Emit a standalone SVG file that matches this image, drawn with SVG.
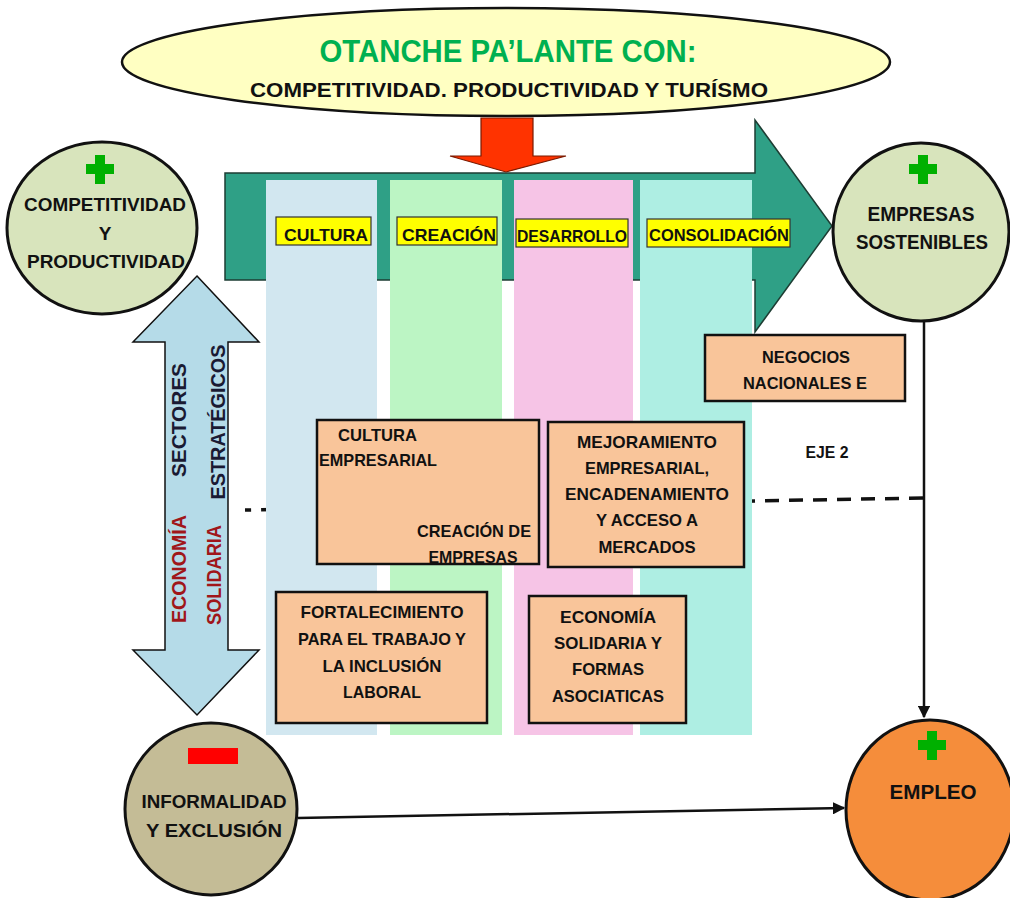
<svg xmlns="http://www.w3.org/2000/svg" width="1010" height="898" viewBox="0 0 1010 898">
<defs>
<style>
text{font-family:"Liberation Sans",Arial,sans-serif;font-weight:bold;fill:#111}
.c{text-anchor:middle}
.box{fill:#F9C59A;stroke:#111;stroke-width:2.5}
.lbl{fill:#FFFF00;stroke:#333;stroke-width:1.2}
.lt{font-size:17px}
.bt{font-size:17px}
.ct{font-size:19px}
.plus{fill:#00B000}
.circ{stroke:#111;stroke-width:3}
.conn{stroke:#111;stroke-width:2.5;fill:none}
.dash{stroke:#111;stroke-width:3.5;fill:none;stroke-dasharray:14 10}
</style>
<marker id="ah" viewBox="0 0 10 10" refX="9" refY="5" markerWidth="5" markerHeight="5" orient="auto" markerUnits="strokeWidth">
<path d="M0,0 L10,5 L0,10 z" fill="#111"/>
</marker>
</defs>
<rect width="1010" height="898" fill="#fff"/>

<g id="connectors">
<path class="dash" d="M923,498 L245,510"/>
<path class="conn" d="M924,322 L924,717" marker-end="url(#ah)"/>
<path class="conn" d="M298,818 L844,808" marker-end="url(#ah)"/>
</g>

<g id="main-arrow">
<polygon points="225,173 755,173 755,120 832,226 755,332 755,280 225,280" fill="#2FA086" stroke="#1d3d33" stroke-width="1.5"/>
</g>

<g id="columns">
<rect x="266" y="180" width="111" height="555" fill="#D2E7F0"/>
<rect x="390" y="180" width="112" height="555" fill="#BCF5C4"/>
<rect x="514" y="180" width="119" height="555" fill="#F6C4E6"/>
<rect x="640" y="180" width="112" height="555" fill="#AEEEE3"/>
</g>

<g id="title">
<ellipse cx="506" cy="62" rx="384" ry="54" fill="#FFFFC2" stroke="#111" stroke-width="2.5"/>
<text x="508" y="62" class="c" style="font-size:31px;fill:#00B050" textLength="377" lengthAdjust="spacingAndGlyphs">OTANCHE PA’LANTE CON:</text>
<text x="509" y="97" class="c" style="font-size:21px" textLength="518" lengthAdjust="spacingAndGlyphs">COMPETITIVIDAD. PRODUCTIVIDAD Y TURÍSMO</text>
</g>

<g id="down-arrow">
<polygon points="481,118 533,118 533,156 566,156 506,172 450,156 481,156" fill="#FF3300" stroke="#7a1a00" stroke-width="1.2"/>
</g>

<g id="label-cultura">
<rect class="lbl" x="276" y="217" width="95" height="28"/>
<text x="326" y="241" class="c lt" textLength="84" lengthAdjust="spacingAndGlyphs">CULTURA</text>
</g>
<g id="label-creacion">
<rect class="lbl" x="397" y="217" width="100" height="28"/>
<text x="449" y="241" class="c lt" textLength="94" lengthAdjust="spacingAndGlyphs">CREACIÓN</text>
</g>
<g id="label-desarrollo">
<rect class="lbl" x="516" y="219" width="112" height="28"/>
<text x="572" y="242" class="c lt" textLength="110" lengthAdjust="spacingAndGlyphs">DESARROLLO</text>
</g>
<g id="label-consolidacion">
<rect class="lbl" x="647" y="219" width="143" height="28"/>
<text x="719" y="241" class="c lt" textLength="140" lengthAdjust="spacingAndGlyphs">CONSOLIDACIÓN</text>
</g>

<g id="double-arrow">
<polygon points="197,276 259,342 228,342 228,650 259,650 197,715 133,650 165,650 165,342 133,342" fill="#B5DBE8" stroke="#111" stroke-width="1.5"/>
<text transform="translate(186,420) rotate(-90)" class="c" style="font-size:21px;fill:#1a1a33" textLength="114" lengthAdjust="spacingAndGlyphs">SECTORES</text>
<text transform="translate(225,422) rotate(-90)" class="c" style="font-size:21px;fill:#1a1a33" textLength="155" lengthAdjust="spacingAndGlyphs">ESTRATÉGICOS</text>
<text transform="translate(186,569) rotate(-90)" class="c" style="font-size:21px;fill:#A0161A" textLength="108" lengthAdjust="spacingAndGlyphs">ECONOMÍA</text>
<text transform="translate(221,575) rotate(-90)" class="c" style="font-size:21px;fill:#A0161A" textLength="100" lengthAdjust="spacingAndGlyphs">SOLIDARIA</text>
</g>

<g id="node-competitividad">
<ellipse class="circ" cx="102" cy="228" rx="95" ry="86" fill="#D8E4BC"/>
<path class="plus" d="M95,155 h10 v9 h9 v10 h-9 v10 h-10 v-10 h-9 v-10 h9 z"/>
<text x="105" y="211" class="c ct" textLength="162" lengthAdjust="spacingAndGlyphs">COMPETITIVIDAD</text>
<text x="105" y="240" class="c ct">Y</text>
<text x="106" y="268" class="c ct" textLength="158" lengthAdjust="spacingAndGlyphs">PRODUCTIVIDAD</text>
</g>

<g id="node-empresas">
<ellipse class="circ" cx="921" cy="232" rx="88" ry="89" fill="#D8E4BC"/>
<path class="plus" d="M918,155 h10 v9 h9 v10 h-9 v10 h-10 v-10 h-9 v-10 h9 z"/>
<text x="921" y="221" class="c" style="font-size:20px" textLength="107" lengthAdjust="spacingAndGlyphs">EMPRESAS</text>
<text x="922" y="249" class="c" style="font-size:20px" textLength="132" lengthAdjust="spacingAndGlyphs">SOSTENIBLES</text>
</g>

<g id="node-informalidad">
<ellipse class="circ" cx="211" cy="809" rx="86" ry="86" fill="#C4BC96"/>
<rect x="188" y="748" width="50" height="16" fill="#FF0000"/>
<text x="214" y="808" class="c ct" textLength="145" lengthAdjust="spacingAndGlyphs">INFORMALIDAD</text>
<text x="214" y="837" class="c ct" textLength="136" lengthAdjust="spacingAndGlyphs">Y EXCLUSIÓN</text>
</g>

<g id="node-empleo">
<ellipse class="circ" cx="930" cy="810" rx="84" ry="90" fill="#F58D3B"/>
<path class="plus" d="M927,731 h10 v9 h9 v10 h-9 v10 h-10 v-10 h-9 v-10 h9 z"/>
<text x="933" y="799" class="c" style="font-size:21px" textLength="87" lengthAdjust="spacingAndGlyphs">EMPLEO</text>
</g>

<g id="box-cultura-empresarial">
<rect class="box" x="317" y="420" width="222" height="144"/>
<text x="338" y="441" class="bt" textLength="79" lengthAdjust="spacingAndGlyphs">CULTURA</text>
<text x="319" y="466" class="bt" textLength="118" lengthAdjust="spacingAndGlyphs">EMPRESARIAL</text>
<text x="417" y="537" class="bt" textLength="114" lengthAdjust="spacingAndGlyphs">CREACIÓN DE</text>
<text x="473" y="563" class="c bt" textLength="89" lengthAdjust="spacingAndGlyphs">EMPRESAS</text>
</g>

<g id="box-mejoramiento">
<rect class="box" x="548" y="422" width="196" height="145"/>
<text x="647" y="448" class="c bt" textLength="140" lengthAdjust="spacingAndGlyphs">MEJORAMIENTO</text>
<text x="647" y="474" class="c bt" textLength="124" lengthAdjust="spacingAndGlyphs">EMPRESARIAL,</text>
<text x="647" y="500" class="c bt" textLength="164" lengthAdjust="spacingAndGlyphs">ENCADENAMIENTO</text>
<text x="647" y="526" class="c bt" textLength="102" lengthAdjust="spacingAndGlyphs">Y ACCESO A</text>
<text x="647" y="553" class="c bt" textLength="97" lengthAdjust="spacingAndGlyphs">MERCADOS</text>
</g>

<g id="box-fortalecimiento">
<rect class="box" x="276" y="592" width="211" height="131"/>
<text x="382" y="618" class="c bt" textLength="163" lengthAdjust="spacingAndGlyphs">FORTALECIMIENTO</text>
<text x="382" y="645" class="c bt" textLength="168" lengthAdjust="spacingAndGlyphs">PARA EL TRABAJO Y</text>
<text x="382" y="672" class="c bt" textLength="119" lengthAdjust="spacingAndGlyphs">LA INCLUSIÓN</text>
<text x="382" y="698" class="c bt" textLength="78" lengthAdjust="spacingAndGlyphs">LABORAL</text>
</g>

<g id="box-economia-solidaria">
<rect class="box" x="529" y="596" width="157" height="127"/>
<text x="608" y="623" class="c bt" textLength="96" lengthAdjust="spacingAndGlyphs">ECONOMÍA</text>
<text x="608" y="649" class="c bt" textLength="108" lengthAdjust="spacingAndGlyphs">SOLIDARIA Y</text>
<text x="608" y="675" class="c bt" textLength="72" lengthAdjust="spacingAndGlyphs">FORMAS</text>
<text x="608" y="702" class="c bt" textLength="112" lengthAdjust="spacingAndGlyphs">ASOCIATICAS</text>
</g>

<g id="box-negocios">
<rect class="box" x="705" y="335" width="200" height="66"/>
<text x="806" y="363" class="c bt" textLength="88" lengthAdjust="spacingAndGlyphs">NEGOCIOS</text>
<text x="805" y="389" class="c bt" textLength="124" lengthAdjust="spacingAndGlyphs">NACIONALES E</text>
</g>

<g id="eje2">
<text x="827" y="458" class="c bt" textLength="43" lengthAdjust="spacingAndGlyphs">EJE 2</text>
</g>
</svg>
